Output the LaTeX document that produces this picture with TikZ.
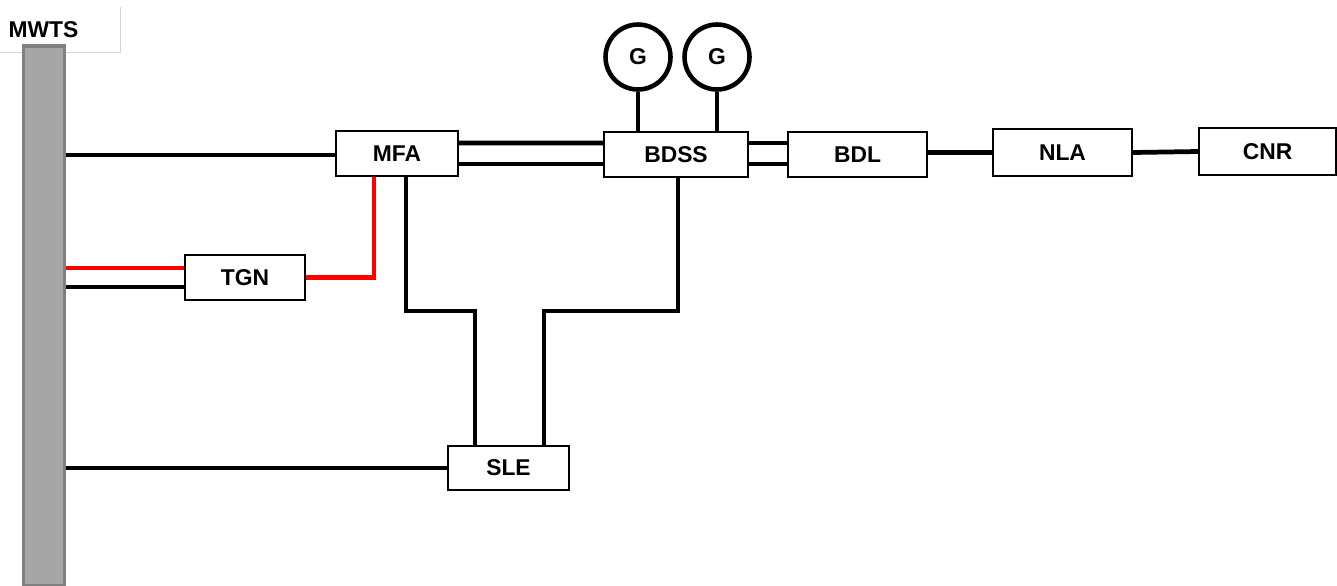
\documentclass[tikz,border=0pt]{standalone}
\usepackage{fontspec}
\setmainfont{Liberation Sans}
\usetikzlibrary{calc}
\definecolor{busfill}{HTML}{A6A6A6}
\definecolor{busedge}{HTML}{808080}
\definecolor{tagedge}{HTML}{D4D4D4}

\begin{document}
\begin{tikzpicture}[x=0.02cm, y=-0.02cm, line join=miter,
	lbl/.style={font=\fontsize{13}{14}\selectfont\bfseries},
	unitbox/.style={draw=black, fill=white, line width=1.1pt, lbl, inner sep=0pt, minimum height=0.9cm},
	gen/.style={circle, draw=black, fill=white, line width=2.6pt, lbl, inner sep=0pt, minimum size=1.3cm},
	link/.style={black, line width=2.7pt},
	linkthin/.style={black, line width=2.1pt},
	hot/.style={red, line width=2.7pt}]
		\useasboundingbox (0,0) rectangle (1337,585);
		
		%========================
		% Bus bar and its tag
		%========================
		\draw[tagedge, line width=0.5pt] (0,52) -- (120,52) -- (120,7);
		\node[lbl] (tag) at (43.5,30) {MWTS};
		\node[draw=busedge, fill=busfill, line width=2pt, inner sep=0pt,
		minimum width=0.82cm, minimum height=10.8cm] (bar) at (44,316) {};
		
		%========================
		% Units
		%========================
		\node[unitbox, minimum width=2.44cm] (MFA) at (397,153.5) {MFA};
		\node[unitbox, minimum width=2.88cm] (BDSS) at (676,154.5) {BDSS};
		\node[unitbox, minimum width=2.78cm] (BDL) at (857.5,154.5) {BDL};
		\node[unitbox, minimum width=2.78cm, minimum height=0.94cm] (NLA) at (1062.5,152.5) {NLA};
		\node[unitbox, minimum width=2.74cm, minimum height=0.94cm] (CNR) at (1267.5,151.5) {CNR};
		\node[unitbox, minimum width=2.4cm] (TGN) at (245,277.5) {TGN};
		\node[unitbox, minimum width=2.42cm, minimum height=0.88cm] (SLE) at (508.5,468) {SLE};
		
		% generators
		\node[gen] (G1) at (638,57) {G};
		\node[gen] (G2) at (717,57) {G};
		
		%========================
		% Connectors
		%========================
		\coordinate (mfain) at ([yshift=-.03cm]MFA.west);
		\draw[link] (bar.east |- mfain) -- (mfain);
		\draw[link] (bar.east |- SLE.west) -- (SLE.west);
		\draw[link] (G1.south) -- (G1.south |- BDSS.north);
		\draw[link] (G2.south) -- (G2.south |- BDSS.north);
		
		% double runs
		\draw[link] ([yshift=.21cm]MFA.east) -- ([yshift=.23cm]BDSS.west);
		\draw[linkthin] ([yshift=-.21cm]MFA.east) -- ([yshift=-.19cm]BDSS.west);
		\draw[link] ([yshift=.23cm]BDSS.east) -- ([yshift=.23cm]BDL.west);
		\draw[linkthin] ([yshift=-.19cm]BDSS.east) -- ([yshift=-.19cm]BDL.west);
		
		% right-hand chain
		\draw[link] (BDL.east |- NLA.west) -- (NLA.west);
		\draw[link] (NLA.east) -- (CNR.west);
		
		% TGN feeds
		\coordinate (hotin) at ([yshift=.19cm]TGN.west);
		\coordinate (coldin) at ([yshift=-.19cm]TGN.west);
		\draw[hot] (bar.east |- hotin) -- (hotin);
		\draw[link] (bar.east |- coldin) -- (coldin);
		\draw[hot] (TGN.east) -| ([xshift=-.46cm]MFA.south);
		
		% down to SLE
		\coordinate (jogL) at (475,311);
		\coordinate (jogR) at (544,311);
		\draw[link] ([xshift=.18cm]MFA.south) |- ([xshift=.037cm]jogL);
		\draw[linkthin] ([yshift=.04cm]jogL) -- (jogL |- SLE.north);
		\draw[link] ([xshift=.04cm]BDSS.south) |- ([xshift=-.037cm]jogR);
		\draw[linkthin] ([yshift=.04cm]jogR) -- (jogR |- SLE.north);
		
	\end{tikzpicture}
\end{document}
